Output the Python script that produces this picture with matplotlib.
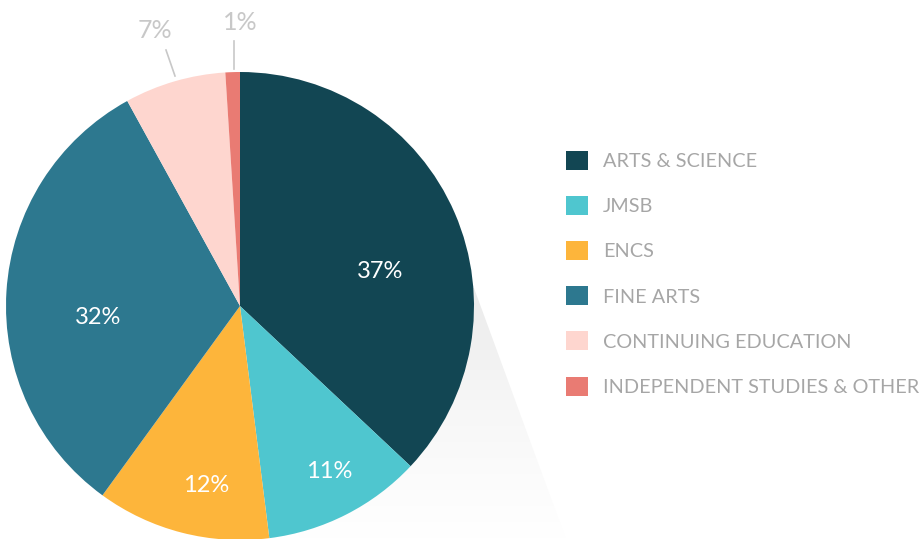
import matplotlib.pyplot as plt
import numpy as np
from matplotlib.patches import Polygon
from matplotlib.colors import LinearSegmentedColormap

plt.rcParams["font.family"] = ["Lato", "DejaVu Sans"]

# data
faculties = ["ARTS & SCIENCE", "JMSB", "ENCS", "FINE ARTS",
             "CONTINUING EDUCATION", "INDEPENDENT STUDIES & OTHER"]
shares = [37, 11, 12, 32, 7, 1]
colors = ["#124653", "#4fc6cf", "#fdb53b", "#2d788f", "#fed6cf", "#e97b73"]

W, H = 922, 539
fig = plt.figure(figsize=(W / 100, H / 100), dpi=100)
ax = fig.add_axes([0, 0, 1, 1])


def py(y):
    # pixel row -> data y (data y grows upward)
    return H - y


cx, cy, R = 240, py(306), 234

wedges, _ = ax.pie(shares, colors=colors, startangle=90, counterclock=False,
                   center=(cx, cy), radius=R,
                   wedgeprops=dict(linewidth=0, zorder=3))

# soft shadow falling to the lower right
shadow = Polygon([(cx, cy), (474, py(288)), (566, py(539)), (300, py(539))],
                 closed=True, facecolor="none", edgecolor="none")
ax.add_patch(shadow)
grad = np.linspace(0, 1, 256).reshape(-1, 1)
cmap = LinearSegmentedColormap.from_list("sh", ["#eaeaea", "#f7f7f7", "#ffffff"])
im = ax.imshow(grad, extent=(230, 580, py(539), py(280)), cmap=cmap,
               aspect="auto", zorder=1, origin="upper")
im.set_clip_path(shadow)

# percentage labels
inner = {0: (380, 272), 1: (329, 471), 2: (206, 485), 3: (98, 318)}
for i, (x, y) in inner.items():
    ax.text(x, py(y), f"{shares[i]}%", color="white", fontsize=17,
            ha="center", va="center", zorder=5)

outer = {4: ((155, 30), (166, 50), (175, 76)), 5: ((240, 22), (234, 41), (234, 69))}
for i, ((tx, ty), (x0, y0), (x1, y1)) in outer.items():
    ax.text(tx, py(ty), f"{shares[i]}%", color="#c8c8c8", fontsize=18,
            ha="center", va="center")
    ax.plot([x0, x1], [py(y0), py(y1)], color="#c8c8c8", lw=1.2)

leg = ax.legend(wedges, faculties, loc="upper left",
                bbox_to_anchor=(566 / W, 1 - 151 / H), frameon=False,
                fontsize=14.3, handlelength=1.1, handleheight=1.1,
                handletextpad=0.75, labelspacing=1.3, borderaxespad=0,
                borderpad=0)
for t in leg.get_texts():
    t.set_color("#a6a6a6")

ax.set_xlim(0, W)
ax.set_ylim(0, H)
ax.set_aspect("equal")
ax.axis("off")

plt.savefig("out.png", dpi=100)
